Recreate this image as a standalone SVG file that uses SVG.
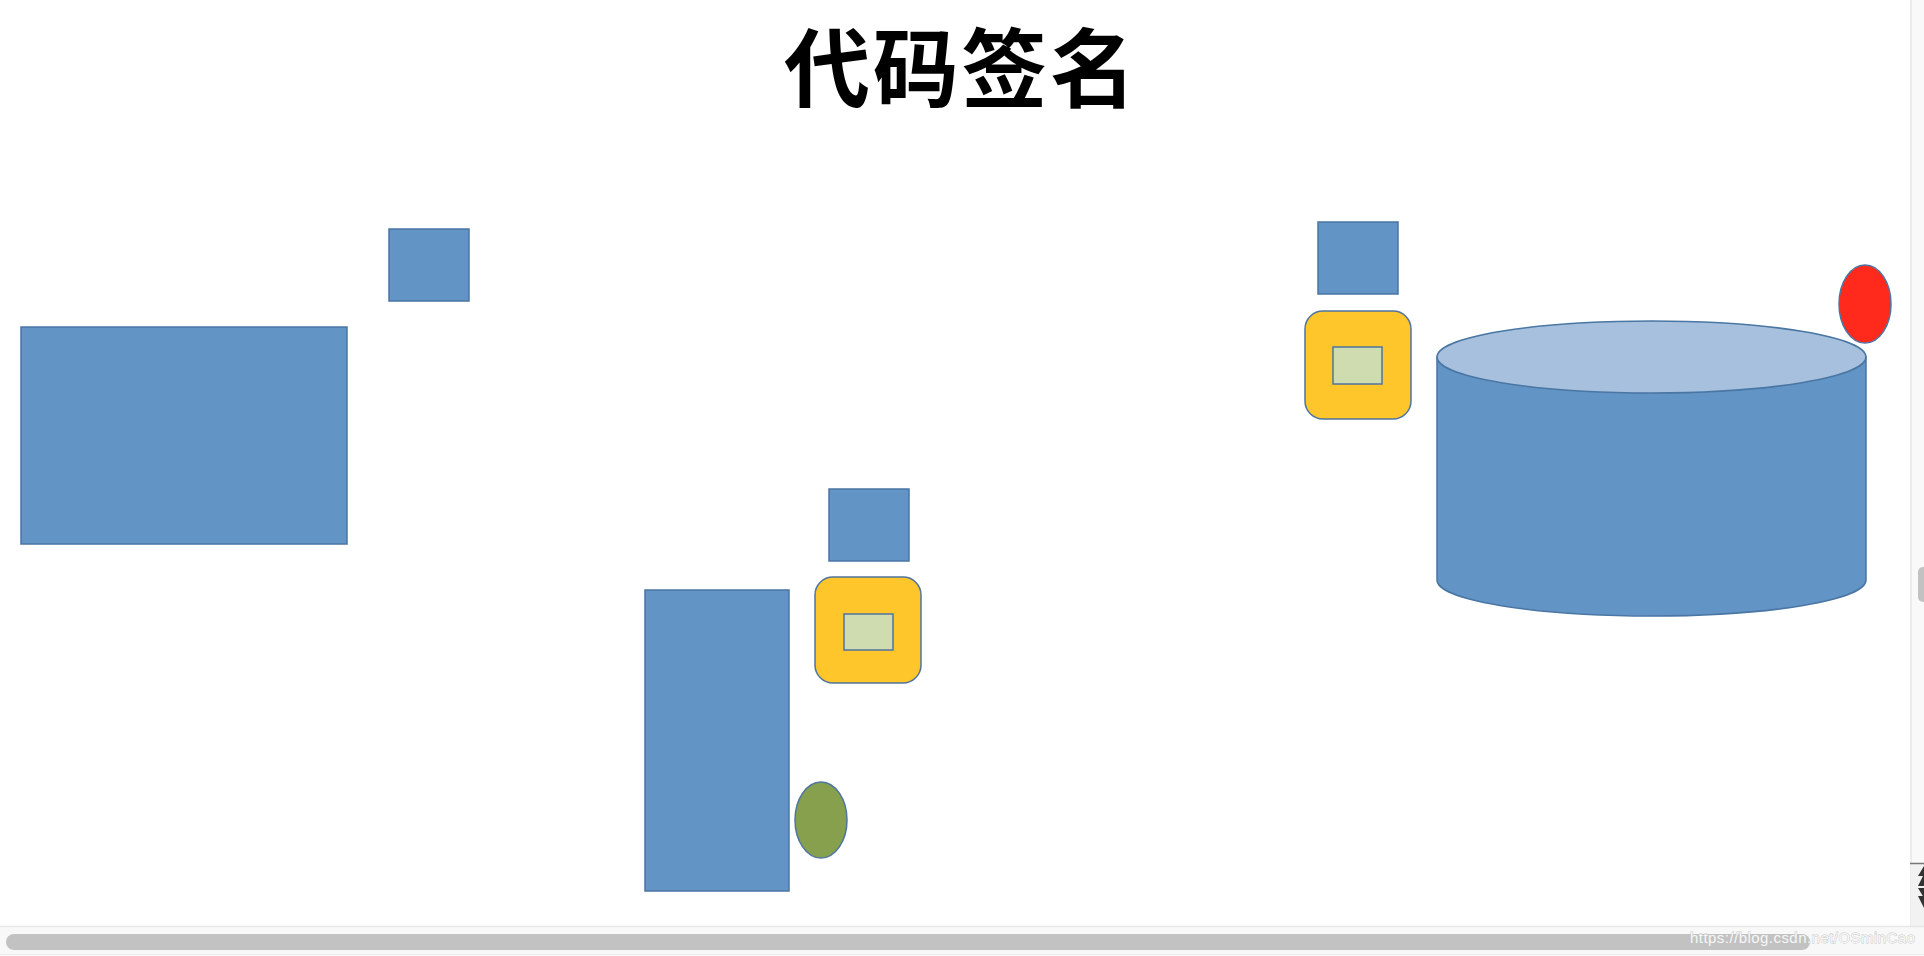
<svg xmlns="http://www.w3.org/2000/svg" width="1924" height="956" viewBox="0 0 1924 956">
  <style>
    .blue { fill: #6295c5; stroke: #4a76a3; stroke-width: 1.5; }
    .yellow { fill: #ffc62b; stroke: #4f74a0; stroke-width: 1.5; }
    .inner { fill: #cfdcb0; stroke: #4f74a0; stroke-width: 1.5; }
    .title { font-family: "Noto Sans CJK SC", "Noto Sans", sans-serif; font-weight: 600; font-size: 86px; fill: #000; }
    .wm { font-family: "Liberation Sans", Arial, sans-serif; font-size: 15px; fill: #f6f6f6; stroke: #c6c6c6; stroke-width: 0.8; paint-order: stroke; }
  </style>
  <rect x="0" y="0" width="1924" height="956" fill="#ffffff"/>

  <text class="title" x="960" y="101" text-anchor="middle" textLength="352">代码签名</text>

  <g id="small-square-left"><rect class="blue" x="389" y="229" width="80" height="72"/></g>
  <g id="big-rect-left"><rect class="blue" x="21" y="327" width="326" height="217"/></g>

  <g id="small-square-mid"><rect class="blue" x="829" y="489" width="80" height="72"/></g>
  <g id="chip-mid">
    <rect class="yellow" x="815" y="577" width="106" height="106" rx="18"/>
    <rect class="inner" x="844" y="614" width="49" height="36"/>
  </g>
  <g id="tall-rect"><rect class="blue" x="645" y="590" width="144" height="301"/></g>
  <g id="green-ellipse"><ellipse cx="821" cy="820" rx="26" ry="38" fill="#87a04e" stroke="#4f74a0" stroke-width="1.5"/></g>

  <g id="small-square-right"><rect class="blue" x="1318" y="222" width="80" height="72"/></g>
  <g id="chip-right">
    <rect class="yellow" x="1305" y="311" width="106" height="108" rx="18"/>
    <rect class="inner" x="1333" y="347" width="49" height="37"/>
  </g>
  <g id="cylinder">
    <path d="M1437 357 L1437 580 A214.5 36 0 0 0 1866 580 L1866 357 Z" fill="#6295c5" stroke="#4a76a3" stroke-width="1.5"/>
    <ellipse cx="1651.5" cy="357" rx="214.5" ry="36" fill="#a6c0de" stroke="#4a76a3" stroke-width="1.5"/>
  </g>
  <g id="red-ellipse"><ellipse cx="1865" cy="304" rx="26" ry="39" fill="#ff2a1c" stroke="#4f74a0" stroke-width="1.5"/></g>

  <g id="connectors"></g>

  <!-- right scrollbar -->
  <rect x="1911" y="0" width="13" height="926" fill="#f9f9f9"/>
  <line x1="1911" y1="0" x2="1911" y2="926" stroke="#e6e6e6" stroke-width="1.5"/>
  <rect x="1918" y="567" width="12" height="35" rx="5" fill="#c2c2c2"/>
  <rect x="1911" y="863" width="13" height="63" fill="#f2f2f2"/>
  <line x1="1910" y1="863.5" x2="1924" y2="863.5" stroke="#777" stroke-width="1.5"/>
  <polygon points="1924,866 1918,876 1924,876" fill="#333"/>
  <polygon points="1924,874 1918,886 1924,886" fill="#333"/>
  <polygon points="1918,888 1924,888 1924,898" fill="#333"/>
  <polygon points="1918,896 1924,896 1924,908" fill="#333"/>

  <!-- bottom scrollbar -->
  <rect x="0" y="926" width="1924" height="30" fill="#f8f8f8"/>
  <line x1="0" y1="926.5" x2="1924" y2="926.5" stroke="#e6e6e6" stroke-width="1.5"/>
  <line x1="0" y1="954.5" x2="1924" y2="954.5" stroke="#ececec" stroke-width="1"/>
  <rect x="6" y="934" width="1804" height="16" rx="8" fill="#c2c2c2"/>

  <text class="wm" x="1690" y="943" textLength="225">https://blog.csdn.net/OSminCao</text>
</svg>
